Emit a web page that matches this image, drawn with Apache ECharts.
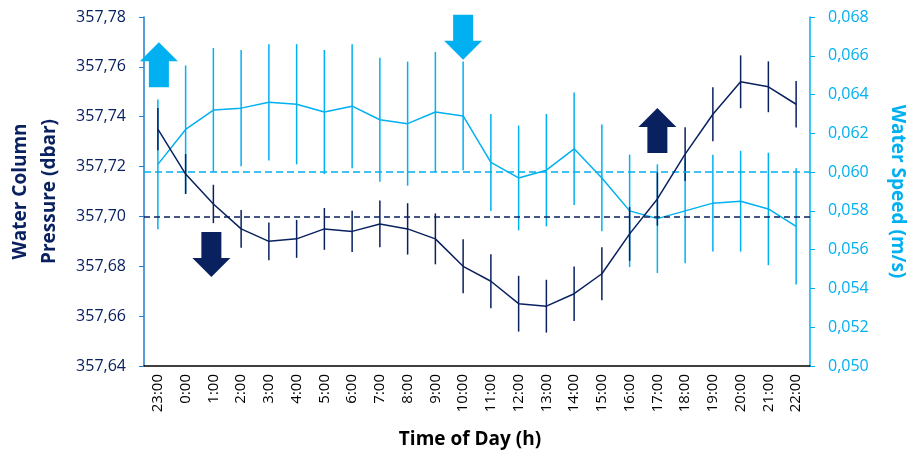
<!DOCTYPE html>
<html>
<head>
<meta charset="utf-8">
<script src="https://cdn.jsdelivr.net/npm/echarts@6/dist/echarts.min.js"></script>
<style>
  html, body { margin: 0; padding: 0; background: #fff; }
  #chart { width: 913px; height: 457px; }
</style>
</head>
<body>
<div id="chart"></div>
<script>
var hours = ['23:00', '0:00', '1:00', '2:00', '3:00', '4:00', '5:00', '6:00', '7:00', '8:00', '9:00', '10:00',
  '11:00', '12:00', '13:00', '14:00', '15:00', '16:00', '17:00', '18:00', '19:00', '20:00', '21:00', '22:00'];

var pressure = [357.735, 357.717, 357.705, 357.695, 357.690, 357.691, 357.695, 357.694, 357.697, 357.695, 357.691, 357.680,
  357.674, 357.665, 357.664, 357.669, 357.677, 357.693, 357.707, 357.725, 357.741, 357.754, 357.752, 357.745];
var pressureErr = [0.0085, 0.0080, 0.0077, 0.0076, 0.0076, 0.0076, 0.0084, 0.0083, 0.0094, 0.0103, 0.0102, 0.0108,
  0.0108, 0.0112, 0.0106, 0.0109, 0.0106, 0.0108, 0.0107, 0.0108, 0.0108, 0.0106, 0.0102, 0.0093];

var speed = [0.0604, 0.0622, 0.0632, 0.0633, 0.0636, 0.0635, 0.0631, 0.0634, 0.0627, 0.0625, 0.0631, 0.0629,
  0.0605, 0.0597, 0.0601, 0.0612, 0.0597, 0.0580, 0.0576, 0.0580, 0.0584, 0.0585, 0.0581, 0.0572];
var speedErr = [0.00335, 0.0033, 0.0032, 0.0030, 0.0030, 0.0031, 0.0032, 0.0032, 0.0032, 0.0032, 0.0031, 0.0028,
  0.0025, 0.0027, 0.0029, 0.0029, 0.00275, 0.0029, 0.0028, 0.0027, 0.0025, 0.0026, 0.0029, 0.0030];

var pressureRef = 357.70;
var speedRef = 0.060;

var navy = '#0a2160';
var sky = '#00b0f0';
var font = 'Open Sans';

function errData(vals, errs) {
  return vals.map(function (v, i) { return [i, v - errs[i], v + errs[i]]; });
}

function errBars(color) {
  return function (params, api) {
    var lo = api.coord([api.value(0), api.value(1)]);
    var hi = api.coord([api.value(0), api.value(2)]);
    return {
      type: 'line',
      shape: { x1: lo[0], y1: lo[1], x2: hi[0], y2: hi[1] },
      style: { stroke: color, lineWidth: 1.5 }
    };
  };
}

// block arrows: [x, y] = tip position, dir 1 = up, -1 = down
function arrow(x, y, dir, color) {
  var hw = 19, sw = 10, hh = 19, len = 45;
  var pts = [
    [x, y],
    [x + hw, y + dir * hh],
    [x + sw, y + dir * hh],
    [x + sw, y + dir * len],
    [x - sw, y + dir * len],
    [x - sw, y + dir * hh],
    [x - hw, y + dir * hh]
  ];
  return { type: 'polygon', shape: { points: pts }, style: { fill: color }, z: 10 };
}

var chart = echarts.init(document.getElementById('chart'));
chart.setOption({
  animation: false,
  textStyle: { fontFamily: font },
  grid: { left: 144, right: 103, top: 17, bottom: 91, containLabel: false, outerBoundsMode: 'none' },
  xAxis: {
    type: 'category',
    data: hours,
    boundaryGap: true,
    name: 'Time of Day (h)',
    nameLocation: 'middle',
    nameGap: 64,
    nameTextStyle: { fontSize: 19, fontWeight: 'bold', color: '#000', fontFamily: font, padding: [0, 14, 0, 0] },
    axisLine: { lineStyle: { color: '#000', width: 1.5 } },
    axisTick: { length: 5, lineStyle: { color: '#000' } },
    axisLabel: { rotate: 90, fontSize: 15, color: '#000', margin: 8, fontFamily: font }
  },
  yAxis: [{
    type: 'value',
    position: 'left',
    min: 357.64, max: 357.78, interval: 0.02,
    name: 'Water Column\nPressure (dbar)',
    nameLocation: 'middle',
    nameRotate: 90,
    nameGap: 80,
    nameTextStyle: { fontSize: 19, fontWeight: 'bold', color: navy, lineHeight: 29, fontFamily: font },
    splitLine: { show: false },
    axisLine: { show: true, lineStyle: { color: '#1f7fd0', width: 1.5 } },
    axisTick: { show: true, length: 5, lineStyle: { color: '#1f7fd0' } },
    axisLabel: {
      fontSize: 16, color: navy, margin: 18, fontFamily: font,
      formatter: function (v) { return v.toFixed(2).replace('.', ','); }
    }
  }, {
    type: 'value',
    position: 'right',
    min: 0.050, max: 0.068, interval: 0.002,
    name: 'Water Speed (m/s)',
    nameLocation: 'middle',
    nameRotate: -90,
    nameGap: 78,
    nameTextStyle: { fontSize: 19, fontWeight: 'bold', color: sky, fontFamily: font },
    splitLine: { show: false },
    axisLine: { show: true, lineStyle: { color: sky, width: 1.5 } },
    axisTick: { show: true, length: 5, lineStyle: { color: sky } },
    axisLabel: {
      fontSize: 16, color: sky, margin: 18, fontFamily: font,
      formatter: function (v) { return v.toFixed(3).replace('.', ','); }
    }
  }],
  series: [{
    name: 'speed err',
    type: 'custom',
    yAxisIndex: 1,
    renderItem: errBars(sky),
    data: errData(speed, speedErr),
    z: 2
  }, {
    name: 'Water Speed',
    type: 'line',
    yAxisIndex: 1,
    data: speed,
    symbol: 'none',
    lineStyle: { color: sky, width: 1.5 },
    z: 3,
    markLine: {
      silent: true, symbol: 'none', label: { show: false },
      lineStyle: { color: sky, type: [7, 4], width: 1.5 },
      data: [{ yAxis: speedRef }]
    }
  }, {
    name: 'pressure err',
    type: 'custom',
    yAxisIndex: 0,
    renderItem: errBars(navy),
    data: errData(pressure, pressureErr),
    z: 4
  }, {
    name: 'Water Column Pressure',
    type: 'line',
    yAxisIndex: 0,
    data: pressure,
    symbol: 'none',
    lineStyle: { color: navy, width: 1.5 },
    z: 5,
    markLine: {
      silent: true, symbol: 'none', label: { show: false },
      lineStyle: { color: navy, type: [6, 4], width: 1.5 },
      data: [{ yAxis: pressureRef }]
    }
  }]
});

// arrows anchored to categories (tip positions)
function px(idx, val, axis) {
  return chart.convertToPixel({ xAxisIndex: 0, yAxisIndex: axis }, [idx, val]);
}
var a1 = px(0, 0.0667, 1);
var a2 = px(2, 357.6757, 0);
var a3 = px(11, 0.0658, 1);
var a4 = px(18, 357.7435, 0);
chart.setOption({
  graphic: [
    arrow(a1[0] + 1, a1[1], 1, sky),
    arrow(a2[0] - 2, a2[1], -1, navy),
    arrow(a3[0], a3[1], -1, sky),
    arrow(a4[0], a4[1], 1, navy)
  ]
});
</script>
</body>
</html>
